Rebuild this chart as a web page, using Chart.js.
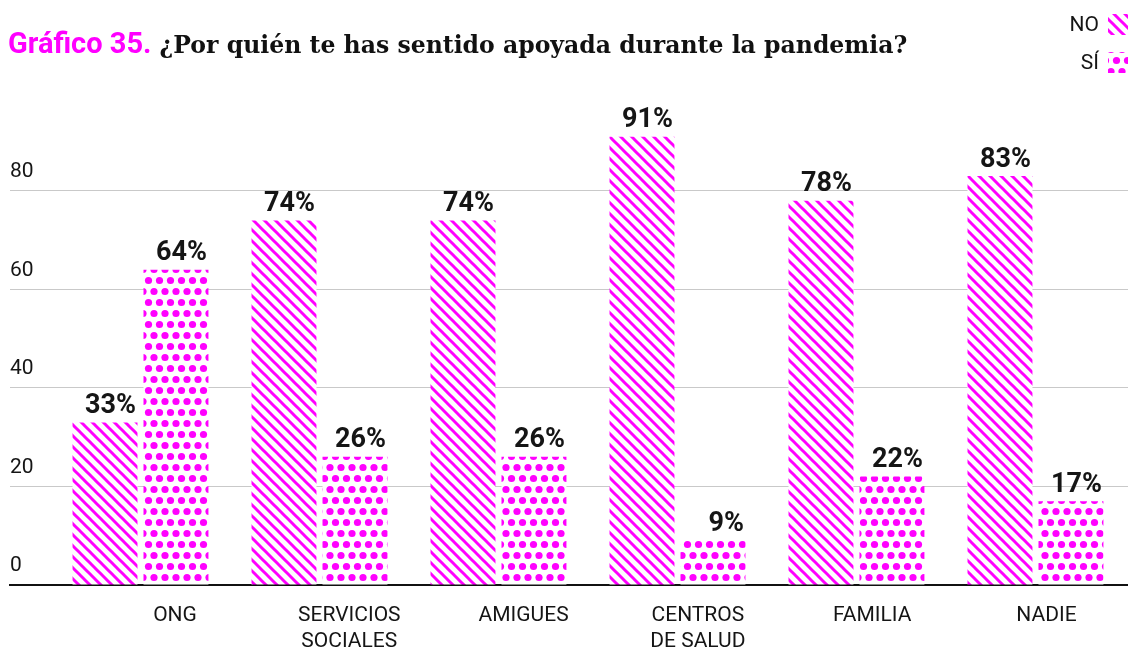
<!DOCTYPE html>
<html lang="es">
<head>
<meta charset="utf-8">
<title>Gráfico 35</title>
<script src="https://cdn.jsdelivr.net/npm/chart.js@4.4.0/dist/chart.umd.min.js"></script>
<style>
  body { margin: 0; background: #fff; }
  #wrap { position: relative; width: 1128px; height: 653px; }
  #title { position: absolute; left: 8px; top: 27px; margin: 0; line-height: 30px; white-space: nowrap; font-weight: 700; }
  #title .num { font-family: Roboto, sans-serif; font-size: 29px; color: #ff00ff; }
  #title .q { font-family: 'DejaVu Serif', serif; font-size: 22px; color: #111; }
  canvas { display: block; }
</style>
</head>
<body>
<div id="wrap">
  <h1 id="title"><span class="num">Gráfico 35.</span> <span class="q">¿Por quién te has sentido apoyada durante la pandemia?</span></h1>
  <canvas id="chart" width="1128" height="653"></canvas>
</div>
<script>
const categories = ['ONG', ['SERVICIOS', 'SOCIALES'], 'AMIGUES', ['CENTROS', 'DE SALUD'], 'FAMILIA', 'NADIE'];
const seriesLabels = ['NO', 'SÍ'];
const noValues = [33, 74, 74, 91, 78, 83];
const siValues = [64, 26, 26, 9, 22, 17];
const yTicks = [0, 20, 40, 60, 80];

const MAGENTA = '#ff00ff';
const TEXT = '#151515';

// stretch the question so the heading keeps its line length
const q = document.querySelector('#title .q');
q.style.fontSize = (22 * 748 / q.getBoundingClientRect().width) + 'px';

const canvas = document.getElementById('chart');
const ctx = canvas.getContext('2d');

function tile(w, h, paint) {
  const c = document.createElement('canvas');
  c.width = w; c.height = h;
  const g = c.getContext('2d');
  g.fillStyle = '#fff';
  g.fillRect(0, 0, w, h);
  paint(g);
  return ctx.createPattern(c, 'repeat');
}

// "\" hatching
const stripes = tile(11, 11, g => {
  g.strokeStyle = MAGENTA;
  g.lineWidth = 3;
  for (const k of [-1, 0, 1]) {
    g.beginPath();
    g.moveTo(k * 11 - 2, -2);
    g.lineTo(k * 11 + 13, 13);
    g.stroke();
  }
});

// staggered dots
const dots = tile(11, 22, g => {
  g.fillStyle = MAGENTA;
  for (const [x, y] of [[0, 5.5], [11, 5.5], [5.5, 16.5]]) {
    g.beginPath();
    g.arc(x, y, 3.6, 0, Math.PI * 2);
    g.fill();
  }
});

const indexTicks = s => { s.ticks = categories.map((_, i) => ({ value: i })); };

const valueLabels = {
  id: 'valueLabels',
  afterDatasetsDraw(chart) {
    const c = chart.ctx;
    c.save();
    c.font = '700 27px Roboto, sans-serif';
    c.fillStyle = TEXT;
    c.textAlign = 'right';
    c.textBaseline = 'alphabetic';
    chart.data.datasets.forEach((ds, di) => {
      chart.getDatasetMeta(di).data.forEach((bar, i) => {
        c.fillText(ds.data[i].y + '%', bar.x + bar.width / 2 - 1.5, bar.y - 9.5);
      });
    });
    c.restore();
  }
};

const cornerLegend = {
  id: 'cornerLegend',
  afterDraw(chart) {
    const c = chart.ctx;
    c.save();
    c.font = '21px Roboto, sans-serif';
    c.textAlign = 'right';
    c.textBaseline = 'middle';
    chart.data.datasets.forEach((ds, i) => {
      const top = 14 + i * 38;
      c.fillStyle = TEXT;
      c.fillText(ds.label, 1099, top + 12);
      c.fillStyle = ds.backgroundColor;
      c.fillRect(1108, top, 20, 21);
    });
    c.restore();
  }
};

new Chart(canvas, {
  type: 'bar',
  data: {
    datasets: [
      { label: seriesLabels[0], data: noValues.map((v, i) => ({ x: i, y: v })), backgroundColor: stripes },
      { label: seriesLabels[1], data: siValues.map((v, i) => ({ x: i, y: v })), backgroundColor: dots }
    ]
  },
  options: {
    responsive: false,
    animation: false,
    devicePixelRatio: 1,
    categoryPercentage: 0.793,
    barPercentage: 0.915,
    layout: { padding: { top: 117, left: 10, right: 0, bottom: -20 } },
    plugins: { legend: { display: false }, tooltip: { enabled: false } },
    scales: {
      x: {
        type: 'linear',
        display: false,
        offset: false,
        min: -0.729,
        max: 5.517,
        afterBuildTicks: indexTicks
      },
      xl: {
        type: 'linear',
        position: 'bottom',
        offset: false,
        min: -0.947,
        max: 5.468,
        grid: { display: false, drawTicks: false, offset: false },
        border: { display: true, color: '#111', width: 2 },
        afterBuildTicks: indexTicks,
        ticks: {
          autoSkip: false,
          maxRotation: 0,
          padding: 18,
          color: TEXT,
          font: { family: 'Roboto', size: 21, lineHeight: 1.24 },
          callback: v => categories[v]
        }
      },
      y: {
        min: 0,
        max: 95,
        border: { display: false },
        grid: { color: '#c9c9c9', lineWidth: 1, drawTicks: false },
        afterBuildTicks: s => { s.ticks = yTicks.map(v => ({ value: v })); },
        ticks: {
          mirror: true,
          padding: 0,
          labelOffset: -19,
          color: TEXT,
          font: { family: 'Roboto', size: 21 }
        }
      }
    }
  },
  plugins: [valueLabels, cornerLegend]
});
</script>
</body>
</html>
